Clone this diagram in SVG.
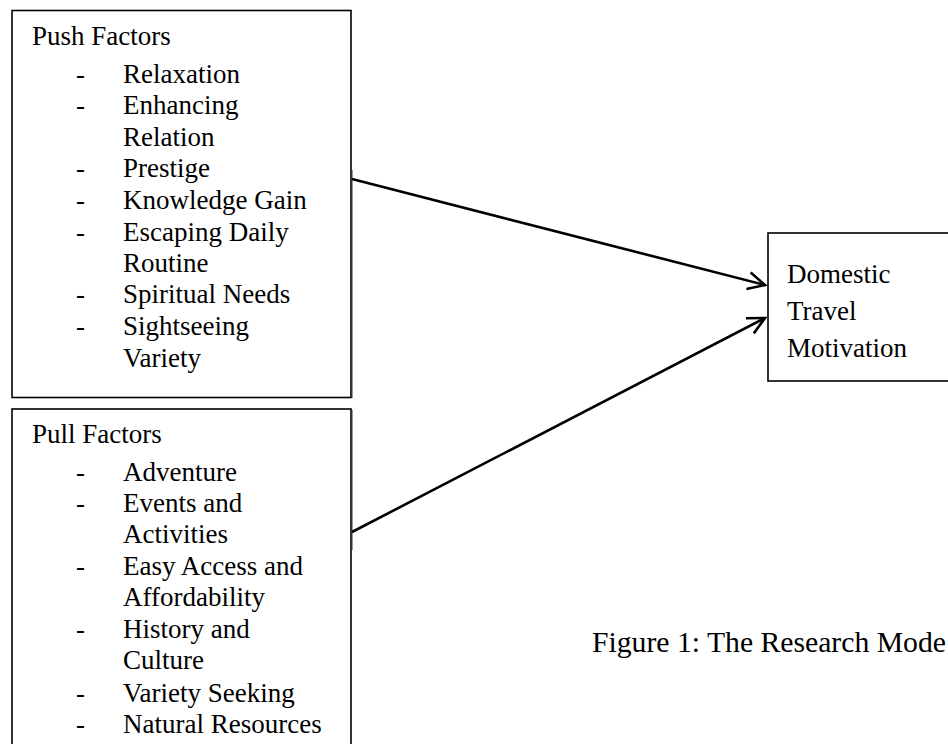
<svg xmlns="http://www.w3.org/2000/svg" width="948" height="744" viewBox="0 0 948 744">
  <style>
    .box { fill: #ffffff; stroke: #000000; stroke-width: 1.6; }
    .shade { fill: none; stroke: #9a9a9a; stroke-width: 1; }
    .lbl { font-family: "Liberation Serif", "Times New Roman", serif; font-size: 27px; fill: #000000; }
    .cap { font-family: "Liberation Serif", "Times New Roman", serif; font-size: 29.7px; fill: #000000; }
    .conn { fill: none; stroke: #000000; stroke-width: 2.6; }
  </style>
  <defs>
    <marker id="openArrow" markerUnits="userSpaceOnUse" markerWidth="24" markerHeight="24" viewBox="-20 -12 24 24" refX="0" refY="0" orient="auto">
      <path d="M-17,-8.5 L0,0 L-17,8.5" fill="none" stroke="#000000" stroke-width="2.6" stroke-linejoin="miter"/>
    </marker>
  </defs>
  <rect x="0" y="0" width="948" height="744" fill="#ffffff"/>

  <g id="push-factors">
    <rect class="box" x="12" y="10.5" width="339" height="387"/>
    <line class="shade" x1="352.5" y1="170" x2="352.5" y2="398"/>
    <text class="lbl" x="32" y="45">Push Factors</text>
    <text class="lbl" x="76" y="83">-</text><text class="lbl" x="123" y="83">Relaxation</text>
    <text class="lbl" x="76" y="114">-</text><text class="lbl" x="123" y="114">Enhancing</text>
    <text class="lbl" x="123" y="146">Relation</text>
    <text class="lbl" x="76" y="177">-</text><text class="lbl" x="123" y="177">Prestige</text>
    <text class="lbl" x="76" y="209">-</text><text class="lbl" x="123" y="209">Knowledge Gain</text>
    <text class="lbl" x="76" y="241">-</text><text class="lbl" x="123" y="241">Escaping Daily</text>
    <text class="lbl" x="123" y="272">Routine</text>
    <text class="lbl" x="76" y="303">-</text><text class="lbl" x="123" y="303">Spiritual Needs</text>
    <text class="lbl" x="76" y="335">-</text><text class="lbl" x="123" y="335">Sightseeing</text>
    <text class="lbl" x="123" y="367">Variety</text>
  </g>

  <g id="pull-factors">
    <rect class="box" x="12" y="409" width="339" height="360"/>
    <line class="shade" x1="352.5" y1="410" x2="352.5" y2="550"/>
    <text class="lbl" x="32" y="443">Pull Factors</text>
    <text class="lbl" x="76" y="481">-</text><text class="lbl" x="123" y="481">Adventure</text>
    <text class="lbl" x="76" y="512">-</text><text class="lbl" x="123" y="512">Events and</text>
    <text class="lbl" x="123" y="543">Activities</text>
    <text class="lbl" x="76" y="575">-</text><text class="lbl" x="123" y="575">Easy Access and</text>
    <text class="lbl" x="123" y="606">Affordability</text>
    <text class="lbl" x="76" y="638">-</text><text class="lbl" x="123" y="638">History and</text>
    <text class="lbl" x="123" y="669">Culture</text>
    <text class="lbl" x="76" y="702">-</text><text class="lbl" x="123" y="702">Variety Seeking</text>
    <text class="lbl" x="76" y="733">-</text><text class="lbl" x="123" y="733">Natural Resources</text>
  </g>

  <g id="domestic-travel-motivation">
    <rect class="box" x="768" y="233" width="200" height="148"/>
    <text class="lbl" x="787" y="283">Domestic</text>
    <text class="lbl" x="787" y="320">Travel</text>
    <text class="lbl" x="787" y="357">Motivation</text>
  </g>

  <g id="connectors">
    <line class="conn" x1="352" y1="179" x2="765" y2="285" marker-end="url(#openArrow)"/>
    <line class="conn" x1="352" y1="532" x2="765" y2="318" marker-end="url(#openArrow)"/>
  </g>

  <g id="caption">
    <text class="cap" x="592" y="652">Figure 1: The Research Mode</text>
  </g>
</svg>
